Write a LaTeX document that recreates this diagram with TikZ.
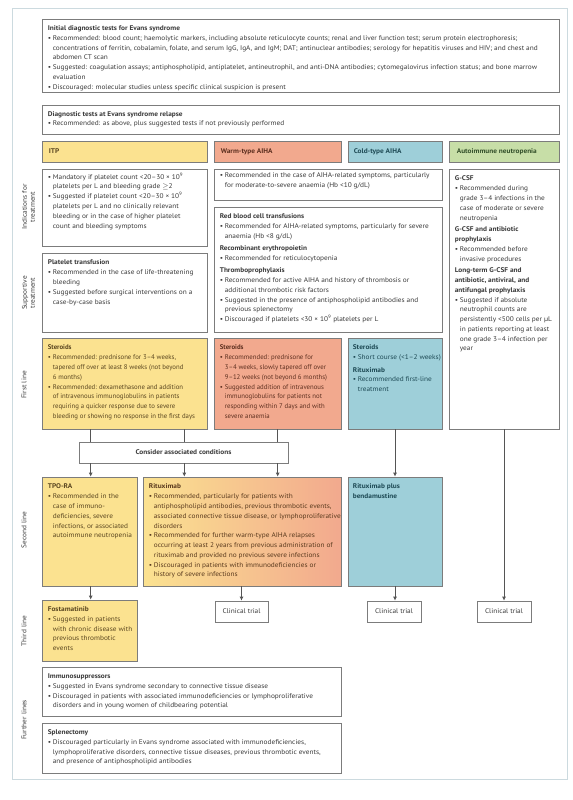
\documentclass[tikz,border=0pt]{standalone}
\usepackage{fontspec}
\setmainfont[FakeStretch=1.08]{PT Sans}
\newfontfamily\tightf{PT Sans}
\usetikzlibrary{fit,arrows.meta,calc}
\definecolor{itpY}{HTML}{FBE290}
\definecolor{warmS}{HTML}{F2A98E}
\definecolor{coldB}{HTML}{9ECFD9}
\definecolor{neuG}{HTML}{C7DEA7}
\definecolor{frameC}{HTML}{CCDADF}
\definecolor{bordC}{HTML}{7C7C7C}
\definecolor{txtC}{HTML}{3A3A3A}
\definecolor{itpT}{HTML}{5A4620}
\definecolor{warmT}{HTML}{5E3020}
\definecolor{coldT}{HTML}{1E4A55}
\definecolor{neuT}{HTML}{33502A}
\definecolor{ritT}{HTML}{5A3A1E}
\definecolor{lineC}{HTML}{555555}
\newcommand\bu{\makebox[5bp][l]{•}}
\newcommand\ii{\hspace*{5bp}}
\newcommand\hd[1]{\textbf{#1}}
\begin{document}
\begin{tikzpicture}[x=1bp,y=-1bp,
 box/.style={draw=bordC, line width=0.7bp, inner sep=0pt},
 txt/.style={anchor=north west, inner sep=0pt, align=left, font=\fontsize{6.8}{9.8}\selectfont, text=txtC},
 tight/.style={font=\tightf\fontsize{6.8}{9.8}\selectfont},
 hlab/.style={anchor=west, inner sep=0pt, font=\fontsize{6.8}{9.8}\selectfont\bfseries},
 ctxt/.style={inner sep=0pt, font=\fontsize{6.8}{9.8}\selectfont, text=txtC},
 rowlab/.style={rotate=90, align=center, inner sep=0pt, font=\fontsize{6.8}{8}\selectfont, text=txtC},
 conn/.style={draw=lineC, line width=0.8bp},
 arr/.style={conn, -{Latex[length=4bp,width=4bp]}},
]
\useasboundingbox (0,0) rectangle (573,800);
\fill[white] (0,0) rectangle (573,800);
\node[draw=frameC, line width=1bp, inner sep=0pt, fit={(12,9)(567,779)}] (frame) {};

% top boxes
\node[box, fit={(42,19)(559,92)}] (b0) {};
\node[txt] (t0) at ([xshift=6bp,yshift=-7bp]b0.north west) {\hd{Initial diagnostic tests for Evans syndrome}\\
\bu Recommended: blood count; haemolytic markers, including absolute reticulocyte counts; renal and liver function test; serum protein electrophoresis;\\
\ii concentrations of ferritin, cobalamin, folate, and serum IgG, IgA, and IgM; DAT; antinuclear antibodies; serology for hepatitis viruses and HIV; and chest and\\
\ii abdomen CT scan\\
\bu Suggested: coagulation assays; antiphospholipid, antiplatelet, antineutrophil, and anti-DNA antibodies; cytomegalovirus infection status; and bone marrow\\
\ii evaluation\\
\bu Discouraged: molecular studies unless specific clinical suspicion is present};

\node[box, fit={(42,105)(559,134)}] (b1) {};
\node[txt] (t1) at ([xshift=6bp,yshift=-6.5bp]b1.north west) {\hd{Diagnostic tests at Evans syndrome relapse}\\
\bu Recommended: as above, plus suggested tests if not previously performed};

% headers
\node[box, fill=itpY, fit={(42,141)(207,162)}] (hI) {};
\node[hlab, text=itpT] (lI) at ([xshift=7bp]hI.west) {ITP};
\node[box, fill=warmS, fit={(214,141)(341,162)}] (hW) {};
\node[hlab, text=warmT] (lW) at ([xshift=7bp]hW.west) {Warm-type AIHA};
\node[box, fill=coldB, fit={(348,141)(442,162)}] (hC) {};
\node[hlab, text=coldT] (lC) at ([xshift=6bp]hC.west) {Cold-type AIHA};
\node[box, fill=neuG, fit={(449,141)(559,162)}] (hN) {};
\node[hlab, text=neuT] (lN) at ([xshift=8bp]hN.west) {Autoimmune neutropenia};

% row labels
\node[rowlab] (r1) at (28.5,207) {Indications for\\treatment};
\node[rowlab] (r2) at (28.5,293) {Supportive\\treatment};
\node[rowlab] (r3) at (24,385) {First line};
\node[rowlab] (r4) at (24,530) {Second line};
\node[rowlab] (r5) at (24,631) {Third line};
\node[rowlab] (r6) at (24,720) {Further lines};

% indications
\node[box, fit={(42,169)(207,246)}] (ii) {};
\node[txt] (iit) at ([xshift=6bp,yshift=-4bp]ii.north west) {\bu Mandatory if platelet count <20–30 × 10\textsuperscript{9}\\
\ii platelets per L and bleeding grade \ensuremath{\geq}2\\
\bu Suggested if platelet count <20–30 × 10\textsuperscript{9}\\
\ii platelets per L and no clinically relevant\\
\ii bleeding or in the case of higher platelet\\
\ii count and bleeding symptoms};

\node[box, fit={(214,169)(442,200)}] (wi) {};
\node[txt] (wit) at ([xshift=6bp,yshift=-4bp]wi.north west) {\bu Recommended in the case of AIHA-related symptoms, particularly\\
\ii for moderate-to-severe anaemia (Hb <10 g/dL)};

\node[box, fit={(449,169)(559,429)}] (nn) {};
\node[txt] (nnt) at ([xshift=6bp,yshift=-7.3bp]nn.north west) {\hd{G-CSF}\\
\bu Recommended during\\
\ii grade 3–4 infections in the\\
\ii case of moderate or severe\\
\ii neutropenia\\[2bp]
\hd{G-CSF and antibiotic}\\
\hd{prophylaxis}\\
\bu Recommended before\\
\ii invasive procedures\\[2bp]
\hd{Long-term G-CSF and}\\
\hd{antibiotic, antiviral, and}\\
\hd{antifungal prophylaxis}\\
\bu Suggested if absolute\\
\ii neutrophil counts are\\
\ii persistently <500 cells per µL\\
\ii in patients reporting at least\\
\ii one grade 3–4 infection per\\
\ii year};

% supportive
\node[box, fit={(42,253)(207,332)}] (is) {};
\node[txt] (ist) at ([xshift=6bp,yshift=-7.3bp]is.north west) {\hd{Platelet transfusion}\\
\bu Recommended in the case of life-threatening\\
\ii bleeding\\
\bu Suggested before surgical interventions on a\\
\ii case-by-case basis};

\node[box, fit={(214,207)(442,332)}] (ws) {};
\node[txt] (wst) at ([xshift=6bp,yshift=-7.3bp]ws.north west) {\hd{Red blood cell transfusions}\\
\bu Recommended for AIHA-related symptoms, particularly for severe\\
\ii anaemia (Hb <8 g/dL)\\[2.5bp]
\hd{Recombinant erythropoietin}\\
\bu Recommended for reticulocytopenia\\[2.5bp]
\hd{Thromboprophylaxis}\\
\bu Recommended for active AIHA and history of thrombosis or\\
\ii additional thrombotic risk factors\\
\bu Suggested in the presence of antiphospholipid antibodies and\\
\ii previous splenectomy\\
\bu Discouraged if platelets <30 × 10\textsuperscript{9} platelets per L};

% first line
\node[box, fill=itpY, fit={(42,338)(207,429)}] (i1) {};
\node[txt, tight, text=itpT] (i1t) at ([xshift=6bp,yshift=-7.3bp]i1.north west) {\hd{Steroids}\\
\bu Recommended: prednisone for 3–4 weeks,\\
\ii tapered off over at least 8 weeks (not beyond\\
\ii 6 months)\\
\bu Recommended: dexamethasone and addition\\
\ii of intravenous immunoglobulins in patients\\
\ii requiring a quicker response due to severe\\
\ii bleeding or showing no response in the first days};

\node[box, fill=warmS, fit={(214,338)(341,429)}] (w1) {};
\node[txt, tight, text=warmT] (w1t) at ([xshift=6bp,yshift=-7.3bp]w1.north west) {\hd{Steroids}\\
\bu Recommended: prednisone for\\
\ii 3–4 weeks, slowly tapered off over\\
\ii 9–12 weeks (not beyond 6 months)\\
\bu Suggested addition of intravenous\\
\ii immunoglobulins for patients not\\
\ii responding within 7 days and with\\
\ii severe anaemia};

\node[box, fill=coldB, fit={(348,338)(442,429)}] (c1) {};
\node[txt, text=coldT] (c1t) at ([xshift=5bp,yshift=-7.3bp]c1.north west) {\hd{Steroids}\\
\bu Short course (<1–2 weeks)\\[2.5bp]
\hd{Rituximab}\\
\bu Recommended first-line\\
\ii treatment};

% consider
\node[box, fill=white, fit={(79,442)(288,463)}] (cons) {};
\node[ctxt, font=\fontsize{6.8}{9.8}\selectfont\bfseries] (const) at (cons.center) {Consider associated conditions};

% second line
\node[box, fill=itpY, fit={(42,477)(137,586)}] (i2) {};
\node[txt, text=itpT] (i2t) at ([xshift=6bp,yshift=-7.3bp]i2.north west) {\hd{TPO-RA}\\
\bu Recommended in the\\
\ii case of immuno-\\
\ii deficiencies, severe\\
\ii infections, or associated\\
\ii autoimmune neutropenia};

\node[box, left color=itpY, right color=warmS, fit={(143,477)(341,586)}] (w2) {};
\node[txt, text=ritT] (w2t) at ([xshift=6bp,yshift=-7.3bp]w2.north west) {\hd{Rituximab}\\
\bu Recommended, particularly for patients with\\
\ii antiphospholipid antibodies, previous thrombotic events,\\
\ii associated connective tissue disease, or lymphoproliferative\\
\ii disorders\\
\bu Recommended for further warm-type AIHA relapses\\
\ii occurring at least 2 years from previous administration of\\
\ii rituximab and provided no previous severe infections\\
\bu Discouraged in patients with immunodeficiencies or\\
\ii history of severe infections};

\node[box, fill=coldB, fit={(348,477)(442,586)}] (c2) {};
\node[txt, text=coldT] (c2t) at ([xshift=5bp,yshift=-7.3bp]c2.north west) {\hd{Rituximab plus}\\
\hd{bendamustine}};

% third line
\node[box, fill=itpY, fit={(42,600)(137,661)}] (i3) {};
\node[txt, text=itpT] (i3t) at ([xshift=6bp,yshift=-7bp]i3.north west) {\hd{Fostamatinib}\\
\bu Suggested in patients\\
\ii with chronic disease with\\
\ii previous thrombotic\\
\ii events};

\node[box, fit={(215,601)(268,622)}] (tr1) {};
\node[ctxt] (tr1t) at (tr1.center) {Clinical trial};
\node[box, fit={(367,601)(421,622)}] (tr2) {};
\node[ctxt] (tr2t) at (tr2.center) {Clinical trial};
\node[box, fit={(477,601)(531,622)}] (tr3) {};
\node[ctxt] (tr3t) at (tr3.center) {Clinical trial};

% further lines
\node[box, fit={(42,667)(341,716)}] (f1) {};
\node[txt] (f1t) at ([xshift=6bp,yshift=-7bp]f1.north west) {\hd{Immunosuppressors}\\
\bu Suggested in Evans syndrome secondary to connective tissue disease\\
\bu Discouraged in patients with associated immunodeficiencies or lymphoproliferative\\
\ii disorders and in young women of childbearing potential};

\node[box, fit={(42,723)(341,773)}] (f2) {};
\node[txt] (f2t) at ([xshift=6bp,yshift=-7bp]f2.north west) {\hd{Splenectomy}\\
\bu Discouraged particularly in Evans syndrome associated with immunodeficiencies,\\
\ii lymphoproliferative disorders, connective tissue diseases, previous thrombotic events,\\
\ii and presence of antiphospholipid antibodies};

% connectors
\coordinate (xa) at (90.7,0);
\coordinate (xb) at (184.3,0);
\coordinate (xc) at (277.7,0);
\coordinate (xd) at (395,0);
\coordinate (xe) at (504,0);
\coordinate (xf) at (241.5,0);
\draw[conn] (i1.south -| xa) -- (cons.north -| xa);
\draw[conn] (i1.south -| xb) -- (cons.north -| xb);
\draw[conn] (w1.south -| xc) -- (cons.north -| xc);
\draw[arr] (cons.south -| xa) -- (i2.north -| xa);
\draw[arr] (cons.south -| xb) -- (w2.north -| xb);
\draw[arr] (cons.south -| xc) -- (w2.north -| xc);
\draw[arr] (c1.south -| xd) -- (c2.north -| xd);
\draw[arr] (i2.south -| xa) -- (i3.north -| xa);
\draw[arr] (w2.south -| xf) -- (tr1.north -| xf);
\draw[arr] (c2.south -| xd) -- (tr2.north -| xd);
\draw[arr] (nn.south -| xe) -- (tr3.north -| xe);
\end{tikzpicture}
\end{document}
